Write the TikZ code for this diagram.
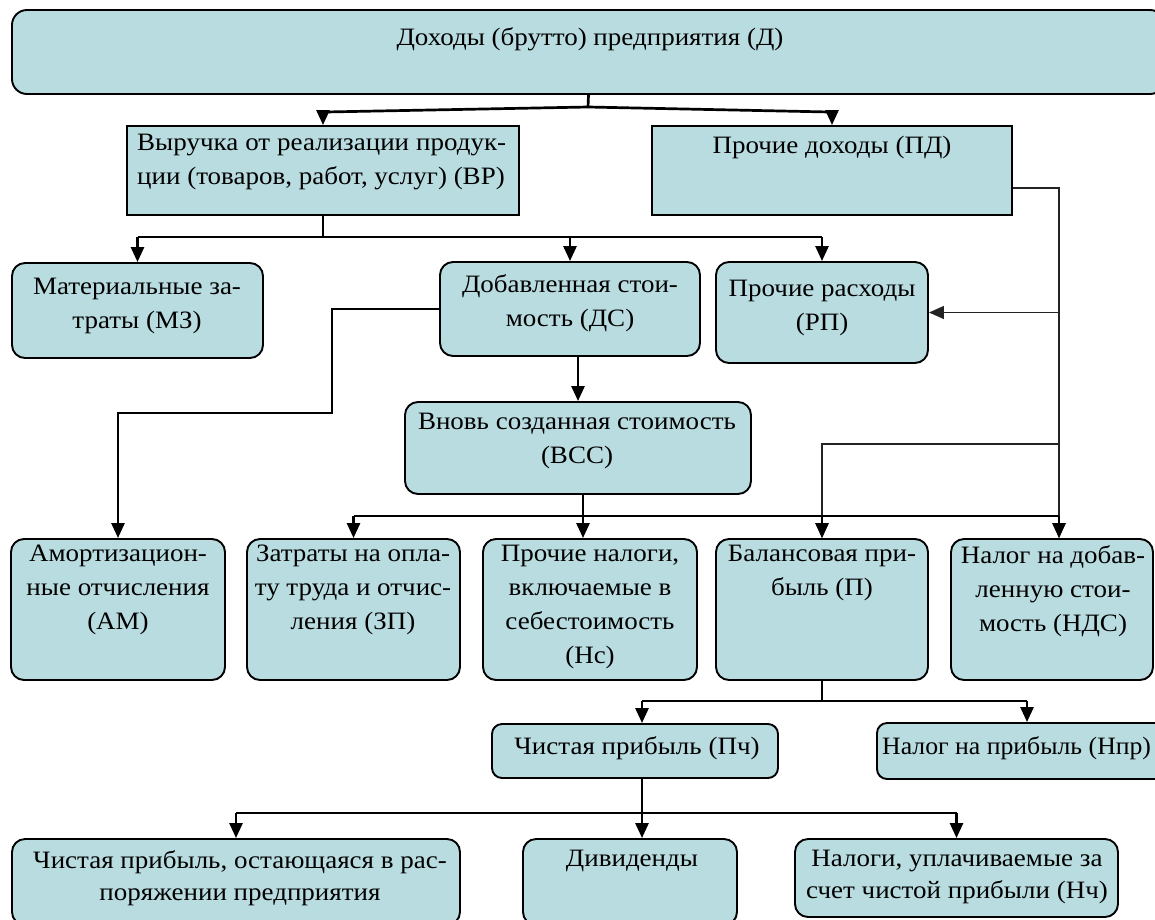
\documentclass[tikz,border=0pt]{standalone}
\usepackage{fontspec}
\setmainfont{Liberation Serif}[FakeStretch=1.08]
\newfontfamily\narrowserif{Liberation Serif}[FakeStretch=1.03]
\usetikzlibrary{arrows.meta}
\definecolor{boxfill}{RGB}{185,220,224}
\definecolor{thinline}{RGB}{35,35,35}
\begin{document}
\begin{tikzpicture}[x=1pt,y=-1pt,
  box/.style={draw=black, line width=1.9pt, fill=boxfill, rounded corners=13pt, inner sep=0pt},
  sqbox/.style={box, rounded corners=0pt},
  txt/.style={anchor=north, align=center, inner sep=0pt, font=\fontsize{25}{34}\selectfont},
  conn/.style={line width=2.7pt},
  thinc/.style={line width=1.3pt, draw=thinline},
  arr/.style={-{Triangle[length=15pt,width=13pt]}}]
\useasboundingbox (0,0) rectangle (1155,919);
\clip (0,0) rectangle (1155,919);

% ---------- boxes ----------
\node[box, rounded corners=15pt, minimum width=1153pt, minimum height=84pt] (d) at (588.5,52) {};
\node[sqbox, minimum width=392pt, minimum height=89pt] (vr) at (323,170.5) {};
\node[sqbox, minimum width=360pt, minimum height=89pt] (pd) at (832,170.5) {};
\node[box, minimum width=251pt, minimum height=95pt] (mz) at (137.5,310.5) {};
\node[box, minimum width=260pt, minimum height=94pt] (ds) at (570,309) {};
\node[box, minimum width=212pt, minimum height=101pt] (rp) at (822,312.5) {};
\node[box, minimum width=346pt, minimum height=92pt] (vss) at (578,448) {};
\node[box, minimum width=214pt, minimum height=141pt] (am) at (118,609.5) {};
\node[box, minimum width=213pt, minimum height=141pt] (zp) at (353.5,609.5) {};
\node[box, minimum width=214pt, minimum height=141pt] (nc) at (590,609.5) {};
\node[box, minimum width=212pt, minimum height=141pt] (p) at (822,609.5) {};
\node[box, minimum width=202pt, minimum height=141pt] (nds) at (1052,609.5) {};
\node[box, rounded corners=10pt, minimum width=286pt, minimum height=54pt] (pch) at (635,751) {};
\node[box, rounded corners=10pt, minimum width=300pt, minimum height=56pt] (npr) at (1027,751) {};
\node[box, minimum width=448pt, minimum height=86pt] (b1) at (236,882) {};
\node[box, minimum width=214pt, minimum height=86pt] (div) at (630,882) {};
\node[box, minimum width=323pt, minimum height=78pt] (nch) at (956.5,878) {};

% ---------- texts ----------
\node[txt] (td) at (590,27) {Доходы (брутто) предприятия (Д)};
\node[txt, anchor=north west, align=left] (tvr) at (137,134)
  {\makebox[369pt][s]{Выручка от реализации продук-}\\ции (товаров, работ, услуг) (ВР)};
\node[txt] (tpd) at (832,136) {Прочие доходы (ПД)};
\node[txt] (tmz) at (137,278) {Материальные за-\\траты (МЗ)};
\node[txt] (tds) at (570,274) {Добавленная стои-\\мость (ДС)};
\node[txt] (trp) at (822,280) {Прочие расходы\\(РП)};
\node[txt] (tvss) at (577,413) {Вновь созданная стоимость\\(ВСС)};
\node[txt] (tam) at (118,545) {Амортизацион-\\ные отчисления\\(АМ)};
\node[txt] (tzp) at (353,545) {Затраты на опла-\\ту труда и отчис-\\ления (ЗП)};
\node[txt] (tnc) at (590,545) {Прочие налоги,\\включаемые в\\себестоимость\\(Нс)};
\node[txt] (tp) at (822,545) {Балансовая при-\\быль (П)};
\node[txt] (tnds) at (1053,545) {Налог на добав-\\ленную стои-\\мость (НДС)};
\node[txt] (tpch) at (637,736) {Чистая прибыль (Пч)};
\node[txt, anchor=north west, font=\narrowserif\fontsize{25}{34}\selectfont] (tnpr) at (882,736) {Налог на прибыль (Нпр)};
\node[txt, font=\fontsize{25}{32}\selectfont] (tb1) at (240,850) {Чистая прибыль, остающаяся в рас-\\поряжении предприятия};
\node[txt] (tdiv) at (632,850) {Дивиденды};
\node[txt, font=\fontsize{25}{32}\selectfont] (tnch) at (957,850) {Налоги, уплачиваемые за\\счет чистой прибыли (Нч)};

% ---------- helper coordinates ----------
\coordinate (j0) at (588,107);
\coordinate (h1) at (0,237);
\coordinate (v1) at (1059,188);
\coordinate (v2) at (1059,444);
\coordinate (k1) at (332,413);
\coordinate (h2) at (0,516);
\coordinate (x583) at (583,0);
\coordinate (h3) at (0,701);
\coordinate (x642) at (642,0);
\coordinate (h4) at (0,813);

% ---------- connectors ----------
% Д -> ВР, ПД
\draw[conn] (d.south) -- (j0);
\draw[conn,arr] (j0) -- ([yshift=13pt]vr.north) -- (vr.north);
\draw[conn,arr] (j0) -- ([yshift=13pt]pd.north) -- (pd.north);

% ВР -> МЗ, ДС, РП
\draw[conn] (vr.south) -- (vr.south |- h1);
\draw[conn] (mz.north |- h1) -- (rp.north |- h1);
\draw[conn,arr] (mz.north |- h1) -- (mz.north);
\draw[conn,arr] (ds.north |- h1) -- (ds.north);
\draw[conn,arr] (rp.north |- h1) -- (rp.north);

% ПД -> РП, П, НДС
\draw[thinc] ([yshift=-17.5pt]pd.east) -- (v1) -- (v2);
\draw[thinc,arr] (v1 |- rp.east) -- (rp.east);
\draw[thinc,arr] (v2) -| (p.north);
\draw[thinc,arr] (v2) -- (v2 |- nds.north);

% ДС -> АМ, ВСС
\draw[conn,arr] (ds.west) -| (k1) -| (am.north);
\draw[conn,arr] (ds.south -| vss.north) -- (vss.north);

% ВСС -> ЗП, Нс, П, НДС
\draw[conn] (x583 |- vss.south) -- (x583 |- h2);
\draw[conn] (zp.north |- h2) -- (v2 |- h2);
\draw[conn,arr] (zp.north |- h2) -- (zp.north);
\draw[conn,arr] (x583 |- h2) -- (x583 |- nc.north);
\draw[conn,arr] (p.north |- h2) -- (p.north);
\draw[conn,arr] (v2 |- h2) -- (v2 |- nds.north);

% П -> Пч, Нпр
\draw[conn] (p.south) -- (p.south |- h3);
\draw[conn] (x642 |- h3) -- (npr.north |- h3);
\draw[conn,arr] (x642 |- h3) -- (x642 |- pch.north);
\draw[conn,arr] (npr.north |- h3) -- (npr.north);

% Пч -> остаток, Дивиденды, Нч
\draw[conn] (x642 |- pch.south) -- (x642 |- h4);
\draw[conn] (b1.north |- h4) -- (nch.north |- h4);
\draw[conn,arr] (b1.north |- h4) -- (b1.north);
\draw[conn,arr] (x642 |- h4) -- (x642 |- div.north);
\draw[conn,arr] (nch.north |- h4) -- (nch.north);
\end{tikzpicture}
\end{document}
